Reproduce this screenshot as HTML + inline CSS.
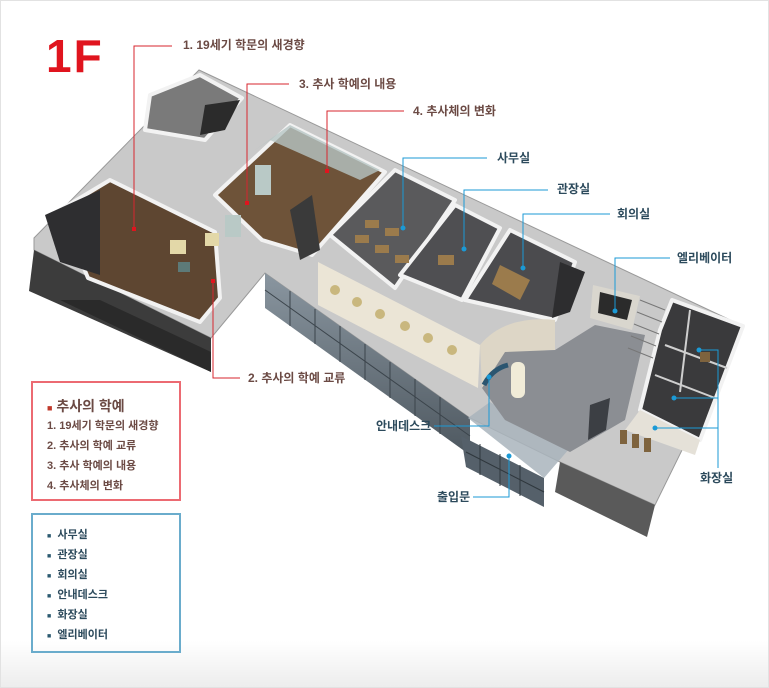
<!DOCTYPE html>
<html><head><meta charset="utf-8">
<style>
html,body{margin:0;padding:0;background:#fff;}
body{width:769px;height:688px;position:relative;overflow:hidden;font-family:"Liberation Sans","Noto Sans CJK KR",sans-serif;}
.frame{position:absolute;left:0;top:0;width:767px;height:686px;border:1px solid #e2e2e2;background:linear-gradient(#fff 0,#fff 640px,#ececec 688px);}
svg{position:absolute;left:0;top:0;}
.lb{position:absolute;font-size:12px;font-weight:bold;white-space:nowrap;line-height:14px;}
.r{color:#6b4a44;}
.b{color:#2c4a5c;}
.box{position:absolute;border:2px solid;box-sizing:border-box;}
.box div{position:absolute;left:14px;font-size:11px;font-weight:bold;white-space:nowrap;}
</style></head><body>
<div class="frame"></div>
<svg width="769" height="688" viewBox="0 0 769 688">
<defs>
<linearGradient id="gl" x1="0" y1="0" x2="0" y2="1"><stop offset="0" stop-color="#8a96a0"/><stop offset="1" stop-color="#4e5860"/></linearGradient>
</defs>
<!-- top footprint -->
<polygon points="199,70 743,326 655,505 560,462 470,418 265,273 211,338 34,250 34,238" fill="#c9c9c9" stroke="#999" stroke-width="1"/>
<!-- left wing front -->
<polygon points="34,250 211,338 211,372 29,291" fill="#3c3c3c"/>
<polygon points="100,300 211,352 211,372 60,300" fill="#2a2a2a"/>
<!-- center glass facade -->
<polygon points="265,273 470,418 470,455 265,308" fill="url(#gl)"/>
<g stroke="#3b444b" stroke-width="1">
<line x1="290" y1="291" x2="290" y2="326"/><line x1="315" y1="309" x2="315" y2="344"/><line x1="340" y1="326" x2="340" y2="362"/><line x1="365" y1="344" x2="365" y2="380"/><line x1="390" y1="362" x2="390" y2="398"/><line x1="415" y1="379" x2="415" y2="416"/><line x1="440" y1="397" x2="440" y2="434"/>
<line x1="265" y1="290" x2="470" y2="436"/>
</g>
<!-- right front -->
<polygon points="655,505 647,537 555,492 560,462" fill="#5a5a5a"/>
<!-- entrance glass box -->
<polygon points="468,418 490,402 569,449 544,478" fill="#a9b4bc" opacity="0.85"/>
<polygon points="461,436 544,478 544,507 466,467" fill="#55606a"/>
<g stroke="#2f373d"><line x1="480" y1="444" x2="480" y2="475"/><line x1="500" y1="454" x2="500" y2="486"/><line x1="520" y1="465" x2="520" y2="496"/><line x1="466" y1="452" x2="544" y2="492"/></g>
<g stroke="#f2f2f2" stroke-width="4" stroke-linejoin="round">
<!-- stair room top-left -->
<polygon points="150,95 200,75 242,98 205,140 145,130" fill="#7a7a7a"/>
<!-- left exhibit room -->
<polygon points="60,210 110,180 215,232 220,298 200,322 88,278" fill="#5e4631"/>
<!-- upper exhibit room -->
<polygon points="215,195 290,125 385,172 312,255 262,240" fill="#6e5339"/>
<!-- offices -->
<polygon points="330,235 395,170 455,200 395,288" fill="#5a5a5c"/>
<polygon points="400,275 455,205 500,228 462,300" fill="#4f4f52"/>
<polygon points="465,300 510,230 575,262 555,320" fill="#4b4b4e"/>
<!-- toilets -->
<polygon points="672,300 743,326 700,440 640,410 660,330" fill="#3a3a3c"/>
</g>
<polygon points="205,105 240,100 225,130 200,135" fill="#2b2b2b"/>
<polygon points="45,215 100,190 100,275 60,262" fill="#2e2e30"/>
<rect x="170" y="240" width="16" height="14" fill="#e3d8a8"/><rect x="205" y="233" width="14" height="13" fill="#e3d8a8"/><rect x="178" y="262" width="12" height="10" fill="#5d7a78"/>
<polygon points="255,150 290,125 380,170 360,180 270,140" fill="#b7c6c4" opacity="0.8"/>
<rect x="255" y="165" width="16" height="30" fill="#b9c9c6"/><rect x="225" y="215" width="16" height="22" fill="#b9c9c6"/>
<polygon points="290,210 312,195 320,250 300,260" fill="#3a3a3a"/>
<polygon points="560,262 585,272 570,312 552,318" fill="#2d2d2f"/>
<g fill="#9b7b4c"><rect x="355" y="235" width="14" height="8"/><rect x="375" y="245" width="14" height="8"/><rect x="395" y="255" width="14" height="8"/><rect x="365" y="220" width="14" height="8"/><rect x="385" y="228" width="14" height="8"/><rect x="438" y="255" width="16" height="10"/><polygon points="500,265 530,280 520,300 492,284"/></g>
<!-- cream front wall of offices -->
<polygon points="318,262 480,345 478,388 318,305" fill="#ebe5d6"/>
<g fill="#c9b77e"><circle cx="335" cy="290" r="5"/><circle cx="357" cy="302" r="5"/><circle cx="380" cy="314" r="5"/><circle cx="405" cy="326" r="5"/><circle cx="428" cy="338" r="5"/><circle cx="452" cy="350" r="5"/></g>
<path d="M480,345 Q505,315 555,320 L555,350 Q505,350 482,388 Z" fill="#ddd6c6"/>
<!-- lobby -->
<polygon points="482,388 505,352 555,350 595,325 645,335 625,420 570,452 505,420" fill="#8b8e93"/>
<rect x="511" y="362" width="14" height="36" rx="6" fill="#f1ecd8"/>
<polygon points="590,405 610,398 606,430 588,440" fill="#3c3f44"/>
<path d="M484,385 q8,-16 24,-20" stroke="#2b5570" stroke-width="5" fill="none"/>
<!-- elevator and stairs -->
<polygon points="593,285 640,296 632,330 590,318" fill="#d9d6ce"/>
<polygon points="600,292 632,300 627,320 598,313" fill="#2b2b2b"/>
<g stroke="#777"><line x1="640" y1="300" x2="665" y2="310"/><line x1="637" y1="312" x2="662" y2="322"/><line x1="634" y1="324" x2="659" y2="334"/><line x1="631" y1="336" x2="656" y2="346"/><line x1="628" y1="348" x2="653" y2="358"/></g>
<g stroke="#cfcfcf" stroke-width="2"><line x1="655" y1="375" x2="715" y2="398"/><line x1="665" y1="345" x2="727" y2="368"/><line x1="690" y1="310" x2="680" y2="392"/></g>
<polygon points="640,410 700,440 695,455 625,430" fill="#e5e1d8"/>
<g fill="#7e633e"><rect x="620" y="430" width="7" height="14"/><rect x="632" y="434" width="7" height="14"/><rect x="644" y="438" width="7" height="14"/><rect x="700" y="352" width="10" height="10"/></g>
<!-- red leader lines -->
<g stroke="#d7262e" stroke-width="1" fill="none">
<polyline points="172,46 134,46 134,229"/>
<polyline points="289,84 247,84 247,203"/>
<polyline points="404,111 327,111 327,171"/>
<polyline points="213,281 213,378 240,378"/>
</g>
<g fill="#e0141e"><rect x="132" y="227" width="4" height="4"/><rect x="245" y="201" width="4" height="4"/><rect x="325" y="169" width="4" height="4"/><rect x="211" y="279" width="4" height="4"/></g>
<!-- blue leader lines -->
<g stroke="#1b9ad6" stroke-width="1" fill="none">
<polyline points="487,158 403,158 403,228"/>
<polyline points="548,190 464,190 464,249"/>
<polyline points="610,214 523,214 523,268"/>
<polyline points="670,258 615,258 615,311"/>
<polyline points="699,350 718,350 718,468"/>
<line x1="674" y1="398" x2="718" y2="398"/>
<line x1="655" y1="428" x2="718" y2="428"/>
<polyline points="434,426 489,426 489,377"/>
<polyline points="473,497 509,497 509,456"/>
</g>
<g fill="#1b9ad6"><circle cx="403" cy="228" r="2.5"/><circle cx="464" cy="249" r="2.5"/><circle cx="523" cy="268" r="2.5"/><circle cx="615" cy="311" r="2.5"/><circle cx="699" cy="350" r="2.5"/><circle cx="674" cy="398" r="2.5"/><circle cx="655" cy="428" r="2.5"/><circle cx="489" cy="377" r="2.5"/><circle cx="509" cy="456" r="2.5"/></g>
</svg>
<div style="position:absolute;left:46px;top:30px;font-size:46px;font-weight:bold;color:#e0141e;line-height:52px;letter-spacing:2px;">1F</div>
<div class="lb r" style="left:183px;top:38px;">1. 19세기 학문의 새경향</div>
<div class="lb r" style="left:299px;top:77px;">3. 추사 학예의 내용</div>
<div class="lb r" style="left:413px;top:104px;">4. 추사체의 변화</div>
<div class="lb r" style="left:248px;top:371px;">2. 추사의 학예 교류</div>
<div class="lb b" style="left:497px;top:151px;">사무실</div>
<div class="lb b" style="left:557px;top:182px;">관장실</div>
<div class="lb b" style="left:617px;top:207px;">회의실</div>
<div class="lb b" style="left:677px;top:251px;">엘리베이터</div>
<div class="lb b" style="left:700px;top:471px;">화장실</div>
<div class="lb b" style="left:376px;top:419px;">안내데스크</div>
<div class="lb b" style="left:437px;top:490px;">출입문</div>
<div class="box" style="left:31px;top:381px;width:150px;height:120px;border-color:#ec6a72;">
<div style="top:13px;font-size:14px;color:#6b4a44;"><span style="color:#c0392b;font-size:9px;">■</span> 추사의 학예</div>
<div style="top:34px;color:#6b4a44;">1. 19세기 학문의 새경향</div>
<div style="top:54px;color:#6b4a44;">2. 추사의 학예 교류</div>
<div style="top:74px;color:#6b4a44;">3. 추사 학예의 내용</div>
<div style="top:94px;color:#6b4a44;">4. 추사체의 변화</div>
</div>
<div class="box" style="left:31px;top:513px;width:150px;height:140px;border-color:#6aaccc;">
<div style="top:11px;color:#2c4a5c;"><span style="color:#2c5a70;font-size:7px;">■</span>&nbsp; 사무실</div>
<div style="top:31px;color:#2c4a5c;"><span style="color:#2c5a70;font-size:7px;">■</span>&nbsp; 관장실</div>
<div style="top:51px;color:#2c4a5c;"><span style="color:#2c5a70;font-size:7px;">■</span>&nbsp; 회의실</div>
<div style="top:71px;color:#2c4a5c;"><span style="color:#2c5a70;font-size:7px;">■</span>&nbsp; 안내데스크</div>
<div style="top:91px;color:#2c4a5c;"><span style="color:#2c5a70;font-size:7px;">■</span>&nbsp; 화장실</div>
<div style="top:111px;color:#2c4a5c;"><span style="color:#2c5a70;font-size:7px;">■</span>&nbsp; 엘리베이터</div>
</div>
</body></html>
